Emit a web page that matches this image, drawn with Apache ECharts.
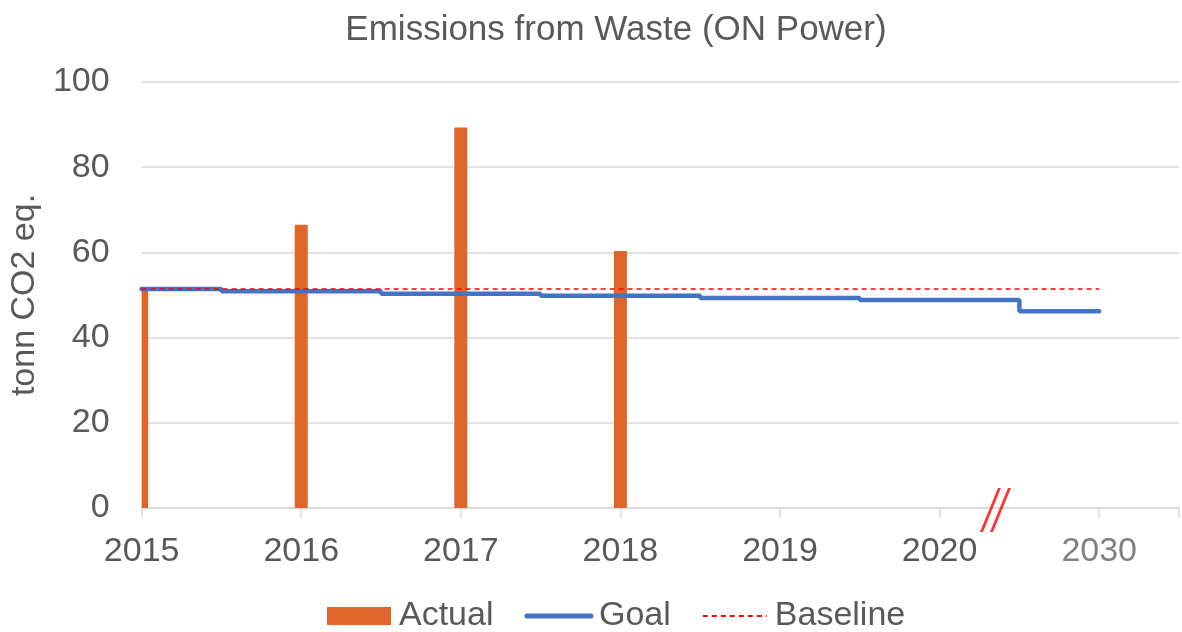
<!DOCTYPE html>
<html lang="en">
<head>
    <meta charset="UTF-8">
    <title>Emissions from Waste (ON Power)</title>
    <script src="https://cdn.jsdelivr.net/npm/echarts@6/dist/echarts.min.js"></script>
    <style>
        html, body { margin: 0; padding: 0; background: #fff; }
        #chart { width: 1182px; height: 632px; }
    </style>
</head>
<body>
    <div id="chart"></div>
    <script>
        // tick labels on the x axis (index positions 0..6)
        const yearLabels = ['2015', '2016', '2017', '2018', '2019', '2020', '2030'];
        // measured emissions, one per year that has data
        const actualValues = [51.5, 66.5, 89.3, 60.3];
        // goal path, stepped half way between years
        const goalValues = [51.4, 50.9, 50.3, 49.8, 49.3, 48.8, 46.2];
        const baselineValue = 51.4;
        // where the axis break sits (between 2020 and 2030)
        const breakAt = 5.35;

        const font = '"Liberation Sans", Arial, sans-serif';
        const textColor = '#595959';
        const barColor = '#e0652b';

        const chart = echarts.init(document.getElementById('chart'));

        // bars drawn as custom rects so the first one gets cut at the plot edge
        function renderBar(params, api) {
            const base = api.coord([api.value(0), 0]);
            const top = api.coord([api.value(0), api.value(1)]);
            const rect = echarts.graphic.clipRectByRect({
                x: base[0] - 6.5,
                y: top[1],
                width: 13,
                height: base[1] - top[1]
            }, params.coordSys);
            if (!rect) return null;
            return { type: 'rect', shape: rect, style: api.style() };
        }

        chart.setOption({
            animation: false,
            textStyle: { fontFamily: font },
            title: {
                text: 'Emissions from Waste (ON Power)',
                left: 611,
                textAlign: 'center',
                top: 8,
                textStyle: { fontFamily: font, fontSize: 35, fontWeight: 'normal', color: textColor }
            },
            legend: {
                bottom: -6,
                left: 322,
                itemWidth: 64,
                itemHeight: 18,
                itemGap: 31,
                textStyle: { fontFamily: font, fontSize: 34, color: textColor, padding: [0, 0, 0, 3] },
                data: [
                    { name: 'Actual', icon: 'rect', itemStyle: { color: barColor } },
                    { name: 'Goal', itemStyle: { opacity: 0 }, lineStyle: { width: 5, cap: 'round' } },
                    { name: 'Baseline', itemStyle: { opacity: 0 } }
                ]
            },
            grid: { left: 140, right: 0, top: 82, bottom: 124 },
            xAxis: {
                type: 'value',
                min: 0,
                max: 6.5,
                interval: 1,
                splitLine: { show: false },
                axisLine: { show: true, lineStyle: { color: '#d9d9d9', width: 1.5 } },
                axisTick: { show: true, length: 10, lineStyle: { color: '#d9d9d9', width: 1.5 } },
                axisLabel: {
                    margin: 27,
                    fontSize: 34,
                    color: textColor,
                    showMaxLabel: true,
                    formatter: function (v) {
                        if (v !== Math.round(v) || !yearLabels[v]) return '';
                        return v === yearLabels.length - 1 ? '{late|' + yearLabels[v] + '}' : yearLabels[v];
                    },
                    rich: { late: { fontSize: 34, color: '#808080', fontFamily: font } }
                }
            },
            yAxis: {
                type: 'value',
                min: 0,
                max: 100,
                interval: 20,
                name: 'tonn CO2 eq.',
                nameLocation: 'middle',
                nameGap: 98,
                nameTextStyle: { fontFamily: font, fontSize: 34, color: textColor },
                axisLine: { show: false },
                axisTick: { show: false },
                axisLabel: { margin: 32, fontSize: 34, color: textColor },
                splitLine: { lineStyle: { color: '#d9d9d9', width: 1.5 } }
            },
            series: [
                {
                    name: 'Actual',
                    type: 'custom',
                    renderItem: renderBar,
                    itemStyle: { color: barColor },
                    encode: { x: 0, y: 1 },
                    data: actualValues.map((v, i) => [i, v]),
                    z: 1
                },
                {
                    name: 'Goal',
                    type: 'line',
                    step: 'middle',
                    symbol: 'none',
                    lineStyle: { color: '#4472c4', width: 4.5, cap: 'round' },
                    itemStyle: { color: '#4472c4' },
                    data: goalValues.map((v, i) => [i, v]),
                    z: 2
                },
                {
                    name: 'Baseline',
                    type: 'line',
                    symbol: 'none',
                    lineStyle: { color: '#ff0000', width: 1.5, type: [5, 4] },
                    itemStyle: { color: '#ff0000' },
                    data: [[0, baselineValue], [yearLabels.length - 1, baselineValue]],
                    z: 3
                },
                {
                    name: 'break',
                    type: 'scatter',
                    silent: true,
                    clip: false,
                    symbol: 'path://M0,44 L18,0 L21,0 L3,44 Z M10,44 L28,0 L31,0 L13,44 Z',
                    symbolSize: [31, 44],
                    symbolOffset: [0, 2],
                    itemStyle: { color: '#ff0000' },
                    data: [[breakAt, 0]],
                    z: 4
                }
            ]
        });
    </script>
</body>
</html>
